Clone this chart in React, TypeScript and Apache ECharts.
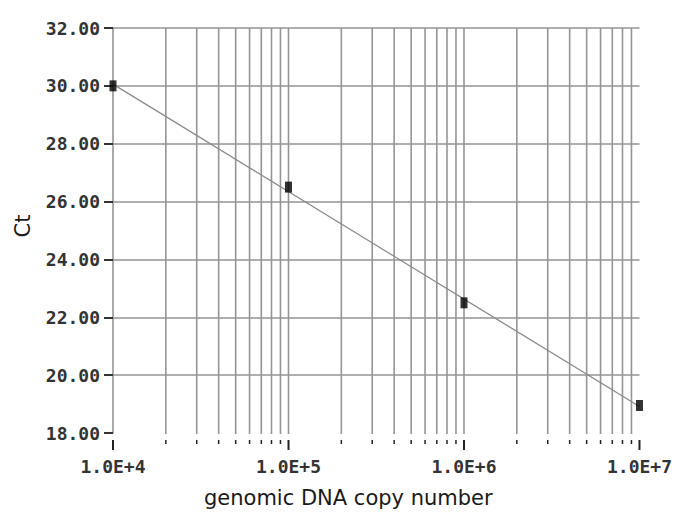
import React, { useEffect, useRef } from "react";
import * as echarts from "echarts";

const copyNumbers = [1e4, 1e5, 1e6, 1e7];
const ctValues = [30.0, 26.5, 22.5, 18.95];
const majorTicks = [1e4, 1e5, 1e6, 1e7];
const minorMultipliers = [2, 3, 4, 5, 6, 7, 8, 9];
const yMin = 18;
const yMax = 32;
const yStep = 2;

function fitLine() {
  const xs = copyNumbers.map((v) => Math.log10(v));
  const n = xs.length;
  const mx = xs.reduce((a, b) => a + b, 0) / n;
  const my = ctValues.reduce((a, b) => a + b, 0) / n;
  let sxy = 0;
  let sxx = 0;
  for (let i = 0; i < n; i++) {
    sxy += (xs[i] - mx) * (ctValues[i] - my);
    sxx += (xs[i] - mx) * (xs[i] - mx);
  }
  const slope = sxy / sxx;
  const b = my - slope * mx;
  const x0 = copyNumbers[0];
  const x1 = copyNumbers[n - 1];
  return [
    [x0, b + slope * Math.log10(x0)],
    [x1, b + slope * Math.log10(x1)],
  ];
}

function tickData() {
  const out: number[][] = [];
  majorTicks.forEach((m, i) => {
    out.push([m, 1]);
    if (i < majorTicks.length - 1) {
      minorMultipliers.forEach((k) => out.push([m * k, 0]));
    }
  });
  return out;
}

function fmt(v: number) {
  const e = Math.round(Math.log10(v));
  const mant = v / Math.pow(10, e);
  return mant.toFixed(1) + "E+" + e;
}

export default function App() {
  const ref = useRef<HTMLDivElement>(null);
  useEffect(() => {
    if (!ref.current) return;
    const chart = echarts.init(ref.current, null, { renderer: "svg" });
    const lastMajor = majorTicks[majorTicks.length - 1];
    const labelFont = {
      fontFamily: "DejaVu Sans Mono",
      fontSize: 18,
      fontWeight: "bold",
      color: "#333333",
    };
    chart.setOption({
      animation: false,
      backgroundColor: "#ffffff",
      grid: { left: 113, right: 33, top: 28, bottom: 82 },
      xAxis: {
        type: "log",
        logBase: 10,
        min: majorTicks[0],
        max: lastMajor,
        axisLine: { show: false },
        axisTick: { show: false },
        splitLine: { show: false },
        minorTick: { show: false },
        axisLabel: {
          margin: 24,
          ...labelFont,
          formatter: (v: number) => fmt(v),
        },
      },
      yAxis: {
        type: "value",
        min: yMin,
        max: yMax,
        interval: yStep,
        axisLine: { show: true, lineStyle: { color: "#959595", width: 1.6 } },
        axisTick: {
          show: true,
          length: 9,
          lineStyle: { color: "#333333", width: 2 },
        },
        splitLine: {
          show: true,
          showMinLine: false,
          lineStyle: { color: "#959595", width: 1.6 },
        },
        axisLabel: {
          margin: 13,
          ...labelFont,
          formatter: (v: number) => v.toFixed(2),
        },
      },
      series: [
        {
          type: "custom",
          clip: false,
          silent: true,
          z: 1,
          data: tickData(),
          renderItem: (params: any, api: any) => {
            const x = api.value(0);
            const major = api.value(1) === 1;
            const top = api.coord([x, yMax]);
            const bot = api.coord([x, yMin]);
            const children: any[] = [];
            if (x !== majorTicks[0] && x !== lastMajor) {
              children.push({
                type: "line",
                shape: { x1: top[0], y1: top[1], x2: bot[0], y2: bot[1] + 1 },
                style: { stroke: "#959595", lineWidth: 1.6 },
              });
            }
            children.push({
              type: "line",
              shape: {
                x1: bot[0],
                y1: bot[1] + 7,
                x2: bot[0],
                y2: bot[1] + (major ? 17 : 11),
              },
              style: { stroke: "#222222", lineWidth: major ? 2 : 1.5 },
            });
            return { type: "group", children };
          },
        },
        {
          type: "line",
          data: fitLine(),
          showSymbol: false,
          silent: true,
          z: 3,
          lineStyle: { color: "#8a8a8a", width: 1.2 },
        },
        {
          type: "scatter",
          data: copyNumbers.map((x, i) => [x, ctValues[i]]),
          symbol: "rect",
          symbolSize: [7, 11],
          z: 4,
          itemStyle: { color: "#000000" },
        },
      ],
      graphic: [
        {
          type: "text",
          left: 204,
          top: 487,
          style: {
            text: "genomic DNA copy number",
            font: "21px 'DejaVu Sans'",
            fill: "#1a1a1a",
          },
        },
        {
          type: "text",
          x: 23,
          y: 226,
          rotation: Math.PI / 2,
          style: {
            text: "Ct",
            font: "21px 'DejaVu Sans'",
            fill: "#1a1a1a",
            align: "center",
            verticalAlign: "middle",
          },
        },
      ],
    });
    return () => chart.dispose();
  }, []);
  return (
    <div
      ref={ref}
      style={{ position: "fixed", left: 0, top: 0, width: 675, height: 515 }}
    />
  );
}
